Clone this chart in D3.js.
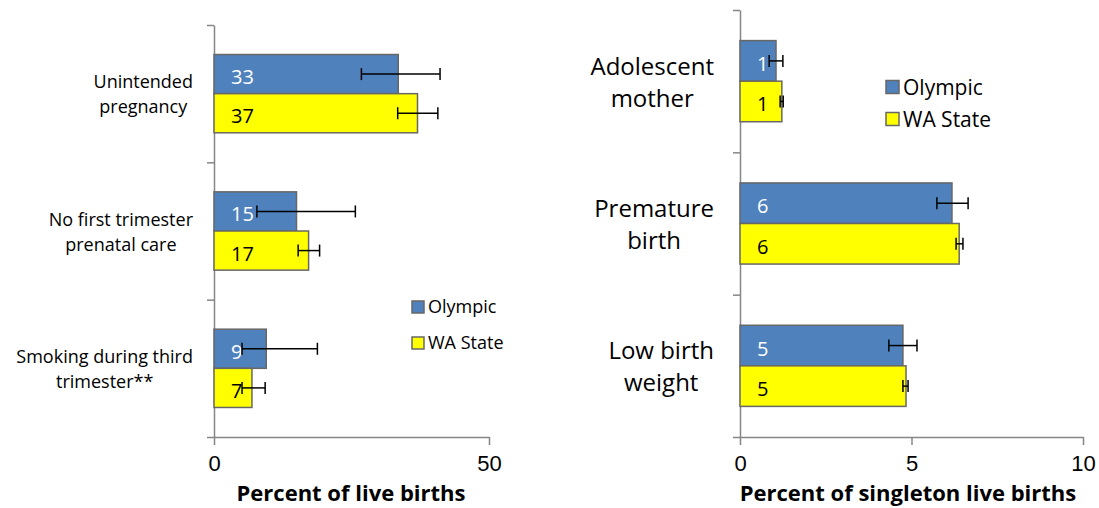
<!DOCTYPE html>
<html>
<head>
<meta charset="utf-8">
<script src="https://cdn.jsdelivr.net/npm/d3@7"></script>
<style>
  body { margin: 0; background: #fff; }
  svg { font-family: "Open Sans", "Noto Sans", sans-serif; }
  .axis path, .axis line { stroke: #868686; stroke-width: 1.5; }
</style>
</head>
<body>
<svg id="chart" width="1099" height="508"></svg>
<script>
// series names
var seriesNames = ["Olympic", "WA State"];

// left panel data
var leftCategories = [["Unintended", "pregnancy"], ["No first trimester", "prenatal care"], ["Smoking during third", "trimester**"]];
var leftOlympic = [33.5, 15.0, 9.5];
var leftOlympicLow = [26.8, 7.8, 5.1];
var leftOlympicHigh = [41.1, 25.7, 18.8];
var leftOlympicLabels = ["33", "15", "9"];
var leftState = [37.0, 17.2, 6.9];
var leftStateLow = [33.4, 15.3, 5.1];
var leftStateHigh = [40.7, 19.2, 9.3];
var leftStateLabels = ["37", "17", "7"];
var leftTicks = [0, 50];

// right panel data
var rightCategories = [["Adolescent", "mother"], ["Premature", "birth"], ["Low birth", "weight"]];
var rightOlympic = [1.05, 6.18, 4.75];
var rightOlympicLow = [0.85, 5.74, 4.34];
var rightOlympicHigh = [1.25, 6.65, 5.16];
var rightOlympicLabels = ["1", "6", "5"];
var rightState = [1.22, 6.39, 4.84];
var rightStateLow = [1.17, 6.30, 4.75];
var rightStateHigh = [1.26, 6.50, 4.90];
var rightStateLabels = ["1", "6", "5"];
var rightTicks = [0, 5, 10];

var colors = {"Olympic": "#4F81BD", "WA State": "#FFFF00"};
var labelColors = {"Olympic": "#ffffff", "WA State": "#000000"};

var svg = d3.select("#chart");

var drawPanel = function(opt)
{
    var xScale = d3.scaleLinear()
        .domain([0, opt.max])
        .range([opt.left, opt.right]);
    var keys = opt.categories.map(function(c){ return c.join(" "); });
    var yScale = d3.scaleBand()
        .domain(keys)
        .range([opt.top, opt.bottom]);
    var inner = d3.scaleBand()
        .domain(seriesNames)
        .range([0, yScale.bandwidth() * 0.57]);
    var groupOffset = yScale.bandwidth() * (1 - 0.57) / 2;

    var rows = [];
    keys.forEach(function(k, i){
        rows.push({cat: k, s: "Olympic", v: opt.olympic[i], lo: opt.olympicLow[i], hi: opt.olympicHigh[i], lab: opt.olympicLabels[i]});
        rows.push({cat: k, s: "WA State", v: opt.state[i], lo: opt.stateLow[i], hi: opt.stateHigh[i], lab: opt.stateLabels[i]});
    });
    var yOf = function(d){ return yScale(d.cat) + groupOffset + inner(d.s); };

    //axes
    var bounds = d3.scaleLinear().domain([0, 3]).range([opt.top, opt.bottom]);
    svg.append("g")
        .attr("class", "axis")
        .attr("transform", "translate(" + opt.left + ",0)")
        .call(d3.axisLeft(bounds).tickValues([0, 1, 2, 3]).tickFormat("").tickSizeInner(7).tickSizeOuter(0));
    var xAxis = svg.append("g")
        .attr("class", "axis")
        .attr("transform", "translate(0," + opt.bottom + ")")
        .call(d3.axisBottom(xScale).tickValues(opt.ticks).tickSizeInner(8).tickSizeOuter(0).tickPadding(10));
    xAxis.selectAll("text")
        .attr("fill", "#000")
        .style("font-size", "22px");

    //bars
    svg.append("g")
        .selectAll("rect")
        .data(rows)
        .enter()
        .append("rect")
        .attr("x", xScale(0))
        .attr("y", yOf)
        .attr("width", function(d){ return xScale(d.v) - xScale(0); })
        .attr("height", inner.bandwidth())
        .attr("fill", function(d){ return colors[d.s]; })
        .attr("stroke", "#676767")
        .attr("stroke-width", 1.5);

    //value labels
    svg.append("g")
        .selectAll("text")
        .data(rows)
        .enter()
        .append("text")
        .text(function(d){ return d.lab; })
        .attr("x", xScale(0) + 17)
        .attr("y", function(d){ return yOf(d) + inner.bandwidth() / 2 + 10; })
        .attr("fill", function(d){ return labelColors[d.s]; })
        .style("font-size", "20px");

    //error bars
    var err = svg.append("g")
        .selectAll("g")
        .data(rows)
        .enter()
        .append("g")
        .attr("stroke", "#000")
        .attr("stroke-width", 1.5);
    err.append("line")
        .attr("x1", function(d){ return xScale(d.lo); })
        .attr("x2", function(d){ return xScale(d.hi); })
        .attr("y1", function(d){ return yOf(d) + inner.bandwidth() / 2; })
        .attr("y2", function(d){ return yOf(d) + inner.bandwidth() / 2; });
    ["lo", "hi"].forEach(function(end){
        err.append("line")
            .attr("x1", function(d){ return xScale(d[end]); })
            .attr("x2", function(d){ return xScale(d[end]); })
            .attr("y1", function(d){ return yOf(d) + inner.bandwidth() / 2 - 6; })
            .attr("y2", function(d){ return yOf(d) + inner.bandwidth() / 2 + 6; });
    });

    //category labels, centred lines with right edge at opt.labelRight
    opt.categories.forEach(function(lines, i){
        var g = svg.append("g");
        var texts = g.selectAll("text")
            .data(lines)
            .enter()
            .append("text")
            .text(function(d){ return d; })
            .attr("text-anchor", "middle")
            .attr("fill", "#000")
            .style("font-size", opt.catSize + "px");
        var maxW = d3.max(texts.nodes(), function(n){ return n.getComputedTextLength(); });
        var mid = yScale(keys[i]) + yScale.bandwidth() / 2;
        texts.attr("x", opt.labelRight - maxW / 2)
            .attr("y", function(d, j){ return mid + (j - (lines.length - 1) / 2) * opt.lineH + opt.catSize * 0.4; });
    });

    //axis title
    svg.append("text")
        .text(opt.title)
        .attr("x", opt.titleX)
        .attr("y", 501)
        .attr("text-anchor", "middle")
        .attr("font-weight", "bold")
        .style("font-size", "22px");

    //legend
    var leg = svg.append("g")
        .selectAll("g")
        .data(seriesNames)
        .enter()
        .append("g")
        .attr("transform", function(d, i){ return "translate(" + opt.legX + "," + (opt.legY + i * opt.legStep) + ")"; });
    leg.append("rect")
        .attr("x", 0)
        .attr("y", -opt.legBox / 2)
        .attr("width", opt.legBox)
        .attr("height", opt.legBox)
        .attr("fill", function(d){ return colors[d]; })
        .attr("stroke", "#676767")
        .attr("stroke-width", 1.5);
    leg.append("text")
        .text(function(d){ return d; })
        .attr("x", opt.legBox + 4)
        .attr("y", opt.legSize * 0.36)
        .style("font-size", opt.legSize + "px");
};

drawPanel({
    categories: leftCategories,
    olympic: leftOlympic, olympicLow: leftOlympicLow, olympicHigh: leftOlympicHigh, olympicLabels: leftOlympicLabels,
    state: leftState, stateLow: leftStateLow, stateHigh: leftStateHigh, stateLabels: leftStateLabels,
    ticks: leftTicks, max: 50,
    left: 214, right: 489, top: 25, bottom: 437,
    labelRight: 193, catSize: 18, lineH: 25,
    title: "Percent of live births", titleX: 351,
    legX: 412, legY: 307, legStep: 36, legBox: 12, legSize: 18
});

drawPanel({
    categories: rightCategories,
    olympic: rightOlympic, olympicLow: rightOlympicLow, olympicHigh: rightOlympicHigh, olympicLabels: rightOlympicLabels,
    state: rightState, stateLow: rightStateLow, stateHigh: rightStateHigh, stateLabels: rightStateLabels,
    ticks: rightTicks, max: 10,
    left: 740, right: 1083, top: 10, bottom: 437,
    labelRight: 714, catSize: 24, lineH: 32,
    title: "Percent of singleton live births", titleX: 908,
    legX: 886, legY: 87, legStep: 32, legBox: 13, legSize: 21
});
</script>
</body>
</html>
